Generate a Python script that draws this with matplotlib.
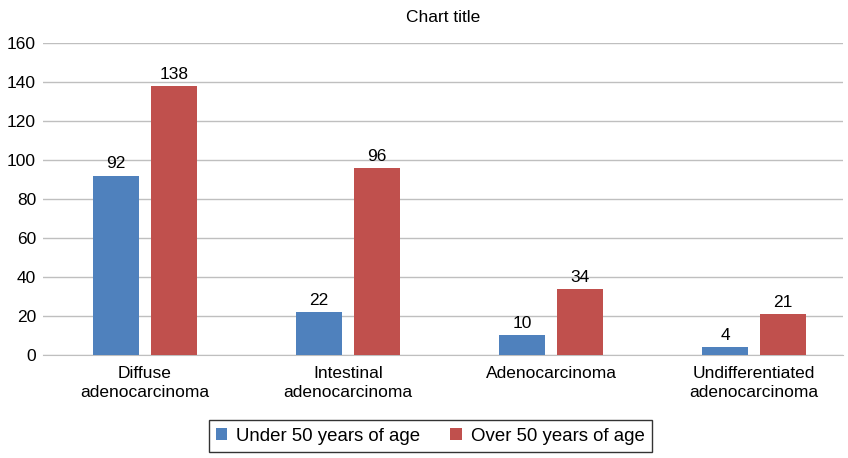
import matplotlib.pyplot as plt
import numpy as np

categories = ['Diffuse\nadenocarcinoma', 'Intestinal\nadenocarcinoma',
              'Adenocarcinoma', 'Undifferentiated\nadenocarcinoma']
under_50 = [92, 22, 10, 4]
over_50 = [138, 96, 34, 21]

plt.rcParams['font.family'] = ['Liberation Sans', 'DejaVu Sans']

fig = plt.figure(figsize=(8.48, 4.58), dpi=100)
ax = fig.add_axes([0.0507, 0.2249, 0.9434, 0.6811])

x = np.arange(len(categories))
w = 0.227
off = 0.143
b1 = ax.bar(x - off, under_50, w, color='#4F81BD', label='Under 50 years of age', zorder=3)
b2 = ax.bar(x + off, over_50, w, color='#C0504D', label='Over 50 years of age', zorder=3)
for bars in (b1, b2):
    ax.bar_label(bars, padding=3, fontsize=12.5)

ax.set_xlim(-0.502, 3.438)
ax.set_ylim(0, 160)
ax.set_yticks(range(0, 161, 20))
ax.set_xticks(x)
ax.set_xticklabels(categories, fontsize=12.5, linespacing=1.3)
ax.tick_params(axis='both', length=0, labelsize=12.5)
ax.tick_params(axis='x', pad=8)
ax.tick_params(axis='y', pad=5)
ax.grid(axis='y', color='#BFBFBF', linewidth=1, zorder=0)
for s in ['top', 'right', 'left']:
    ax.spines[s].set_visible(False)
ax.spines['bottom'].set_color('#BFBFBF')
ax.set_title('Chart title', fontsize=12.5, pad=15)

leg = fig.legend(loc='lower center', bbox_to_anchor=(0.5075, -0.008), ncol=2, fontsize=13.4,
                 frameon=True, fancybox=False, edgecolor='black', handlelength=0.6,
                 handleheight=0.6, columnspacing=1.6, handletextpad=0.5, borderpad=0.4)
leg.get_frame().set_linewidth(1)

fig.savefig('out.png', dpi=100)
